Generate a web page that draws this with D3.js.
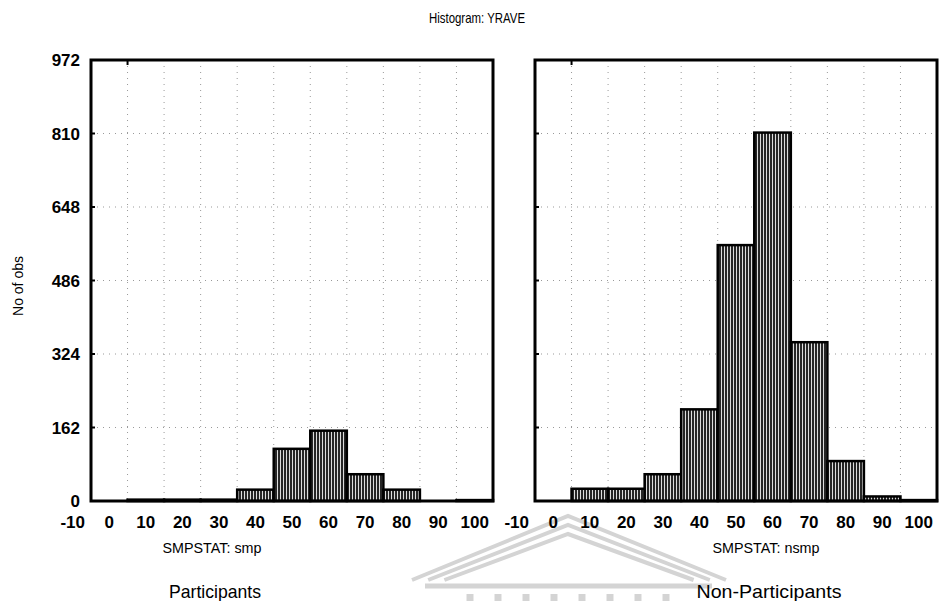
<!DOCTYPE html>
<html>
<head>
<meta charset="utf-8">
<script src="https://cdn.jsdelivr.net/npm/d3@7/dist/d3.min.js"></script>
<style>
  body { margin: 0; background: #fff; }
  svg { display: block; font-family: "Liberation Sans", Arial, sans-serif; }
</style>
</head>
<body>
<div id="chart"></div>
<script>
// histogram bins (lower edge of each 10-wide bin)
var binStarts = [-10, 0, 10, 20, 30, 40, 50, 60, 70, 80, 90];
var binWidth = 10;

// counts
var participants    = [0, 3, 3, 3, 25, 115, 155, 59, 25, 0, 2];
var nonParticipants = [0, 27, 27, 59, 202, 564, 812, 350, 88, 10, 2];

var yTicks = [0, 162, 324, 486, 648, 810, 972];
var xTicks = [-10, 0, 10, 20, 30, 40, 50, 60, 70, 80, 90, 100];

var panelNames = ['SMPSTAT: smp', 'SMPSTAT: nsmp'];
var groupNames = ['Participants', 'Non-Participants'];

var W = 951, H = 601;
var top_y = 60, bottom_y = 501;
var panels = [
  { x0: 91,  x1: 493, values: participants,    name: panelNames[0], group: groupNames[0], cx: 212, nameLen: 99,  groupLen: 92 },
  { x0: 535, x1: 937, values: nonParticipants, name: panelNames[1], group: groupNames[1], cx: 766, nameLen: 107, groupLen: 145 }
];

var svg = d3.select('#chart')
  .append('svg')
  .attr('width', W)
  .attr('height', H);

// bar fill: fine vertical stripes like the scanned print
var defs = svg.append('defs');
var pat = defs.append('pattern')
  .attr('id', 'stripes')
  .attr('patternUnits', 'userSpaceOnUse')
  .attr('width', 3)
  .attr('height', 4);
pat.append('rect').attr('width', 3).attr('height', 4).attr('fill', '#262626');
pat.append('rect').attr('x', 1).attr('width', 1).attr('height', 4).attr('fill', '#dcdcdc');

// faint watermark (building pediment) behind the bottom labels
var wm = svg.append('g')
  .attr('fill', 'none')
  .attr('stroke', '#d4d4d4')
  .attr('stroke-width', 4);
[0, 9, 18].forEach(function(d) {
  wm.append('path')
    .attr('d', 'M' + (412 + d * 1.8) + ',580 L568,' + (516 + d) + ' L' + (726 - d * 1.8) + ',580');
});
wm.append('line').attr('x1', 425).attr('x2', 712).attr('y1', 586).attr('y2', 586).attr('stroke-width', 5);
d3.range(8).forEach(function(i) {
  wm.append('line')
    .attr('x1', 470 + i * 28).attr('x2', 470 + i * 28)
    .attr('y1', 594).attr('y2', 601)
    .attr('stroke-width', 7);
});

var y = d3.scaleLinear().domain([0, 972]).range([bottom_y, top_y]);

// title
svg.append('text')
  .attr('x', 477)
  .attr('y', 23)
  .attr('text-anchor', 'middle')
  .attr('font-size', 15)
  .attr('textLength', 96)
  .attr('lengthAdjust', 'spacingAndGlyphs')
  .text('Histogram: YRAVE');

// y axis title
svg.append('text')
  .attr('transform', 'translate(23,286) rotate(-90)')
  .attr('text-anchor', 'middle')
  .attr('font-size', 14)
  .text('No of obs');

// y tick labels (left panel only)
svg.append('g').selectAll('text')
  .data(yTicks)
  .enter().append('text')
  .attr('x', 80)
  .attr('y', function(d) { return y(d) + 6; })
  .attr('text-anchor', 'end')
  .attr('font-size', 17)
  .attr('font-weight', 'bold')
  .text(function(d) { return d; });

panels.forEach(function(p) {
  var x = d3.scaleLinear().domain([-10, 100]).range([p.x0, p.x1]);
  var g = svg.append('g');

  // dotted grid
  g.selectAll('.vgrid')
    .data(xTicks.slice(1, -1))
    .enter().append('line')
    .attr('x1', function(d) { return x(d); })
    .attr('x2', function(d) { return x(d); })
    .attr('y1', top_y).attr('y2', bottom_y)
    .attr('stroke', '#999')
    .attr('stroke-width', 1)
    .attr('stroke-dasharray', '1,5');
  g.selectAll('.hgrid')
    .data(yTicks.slice(1, -1))
    .enter().append('line')
    .attr('x1', p.x0).attr('x2', p.x1)
    .attr('y1', function(d) { return y(d); })
    .attr('y2', function(d) { return y(d); })
    .attr('stroke', '#999')
    .attr('stroke-width', 1)
    .attr('stroke-dasharray', '1,5');

  // bars
  g.selectAll('.bar')
    .data(binStarts)
    .enter().append('rect')
    .attr('x', function(d) { return x(d); })
    .attr('width', function(d) { return x(d + binWidth) - x(d); })
    .attr('y', function(d, i) { return y(p.values[i]); })
    .attr('height', function(d, i) { return bottom_y - y(p.values[i]); })
    .attr('fill', 'url(#stripes)')
    .attr('stroke', '#000')
    .attr('stroke-width', 2.5);

  // frame
  g.append('rect')
    .attr('x', p.x0).attr('y', top_y)
    .attr('width', p.x1 - p.x0).attr('height', bottom_y - top_y)
    .attr('fill', 'none')
    .attr('stroke', '#000')
    .attr('stroke-width', 3);

  // small inward ticks on left and top
  g.selectAll('.ytick')
    .data(yTicks)
    .enter().append('line')
    .attr('x1', p.x0).attr('x2', p.x0 + 4)
    .attr('y1', function(d) { return y(d); })
    .attr('y2', function(d) { return y(d); })
    .attr('stroke', '#000').attr('stroke-width', 2);
  g.append('line')
    .attr('x1', x(0)).attr('x2', x(0))
    .attr('y1', top_y).attr('y2', top_y + 5)
    .attr('stroke', '#000').attr('stroke-width', 2);

  // x tick labels: the program prints each bin's upper edge under the bin centre
  g.selectAll('.xlab')
    .data(xTicks)
    .enter().append('text')
    .attr('x', function(d) { return x(d - binWidth / 2); })
    .attr('y', 528)
    .attr('text-anchor', 'middle')
    .attr('font-size', 17)
    .attr('font-weight', 'bold')
    .text(function(d) { return d; });

  // panel caption
  g.append('text')
    .attr('x', p.cx)
    .attr('y', 553)
    .attr('text-anchor', 'middle')
    .attr('font-size', 15)
    .attr('textLength', p.nameLen)
    .attr('lengthAdjust', 'spacingAndGlyphs')
    .text(p.name);

  g.append('text')
    .attr('x', p.cx + 3)
    .attr('y', 598)
    .attr('text-anchor', 'middle')
    .attr('font-size', 19)
    .attr('textLength', p.groupLen)
    .attr('lengthAdjust', 'spacingAndGlyphs')
    .text(p.group);
});
</script>
</body>
</html>
